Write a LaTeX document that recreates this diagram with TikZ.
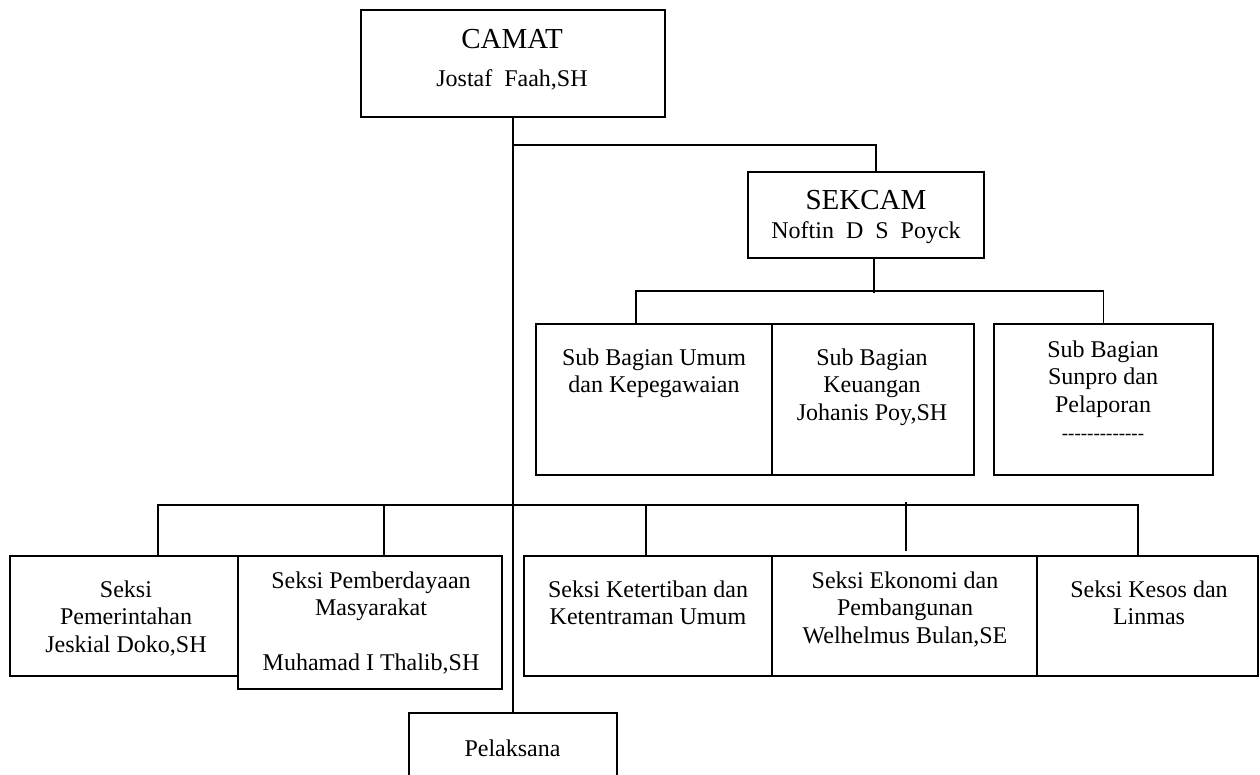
\documentclass[tikz,border=0pt]{standalone}
\usepackage{fontspec}
\setmainfont{Liberation Serif}
\usetikzlibrary{calc}
\newcommand\mlines[1]{\begin{tabular}[t]{@{}c@{}}#1\end{tabular}}
\newcommand\hy{-\kern0pt}
\begin{document}
\begin{tikzpicture}[x=1pt,y=-1pt,
  box/.style n args={2}{draw, line width=1.7pt, rectangle, inner sep=0pt,
    minimum width=#1, minimum height=#2},
  lbl/.style={anchor=base, inner sep=0pt, font=\fontsize{24}{27.5}\selectfont},
  big/.style={anchor=base, inner sep=0pt, font=\fontsize{29}{33}\selectfont},
  conn/.style={line width=1.5pt}]
\useasboundingbox (0,0) rectangle (1260,774);

% boxes
\node[box={304}{107}] (camat) at (513,63.5) {};
\node[box={236}{86}] (sekcam) at (866,215) {};
\node[box={236}{151}] (sb1) at (654,399.5) {};
\node[box={202}{151}] (sb2) at (873,399.5) {};
\node[box={219}{151}] (sb3) at (1103.5,399.5) {};
\node[box={228}{120}] (s1) at (124,616) {};
\node[box={264}{133}] (s2) at (370,622.5) {};
\node[box={248}{120}] (s3) at (648,616) {};
\node[box={265}{120}] (s4) at (904.5,616) {};
\node[box={221}{120}] (s5) at (1147.5,616) {};
\node[box={208}{87}] (pel) at (513,756.5) {};

% texts
\node[big] (camatT) at (512,48) {CAMAT};
\node[lbl] (camatN) at (512,86) {Jostaf\ \ Faah,SH};
\node[big] (sekcamT) at (866,209) {SEKCAM};
\node[lbl] (sekcamN) at (866,238) {Noftin\ \ D\ \ S\ \ Poyck};
\node[lbl] (sb1T) at (654,365) {\mlines{Sub Bagian Umum\\dan Kepegawaian}};
\node[lbl] (sb2T) at (872,365) {\mlines{Sub Bagian\\Keuangan\\Johanis Poy,SH}};
\node[lbl] (sb3T) at (1103,357) {\mlines{Sub Bagian\\Sunpro dan\\Pelaporan\\{\fontsize{19}{22}\selectfont\hy\hy\hy\hy\hy\hy\hy\hy\hy\hy\hy\hy-}}};
\node[lbl] (s1T) at (126,597) {\mlines{Seksi\\Pemerintahan\\Jeskial Doko,SH}};
\node[lbl] (s2T) at (371,588) {\mlines{Seksi Pemberdayaan\\Masyarakat\\ \\Muhamad I Thalib,SH}};
\node[lbl] (s3T) at (648,597) {\mlines{Seksi Ketertiban dan\\Ketentraman Umum}};
\node[lbl] (s4T) at (905,588) {\mlines{Seksi Ekonomi dan\\Pembangunan\\Welhelmus Bulan,SE}};
\node[lbl] (s5T) at (1149,597) {\mlines{Seksi Kesos dan\\Linmas}};
\node[lbl] (pelT) at (512.5,756) {Pelaksana};

% connectors
\draw[conn] (camat.south) -- (pel.north);
\draw[conn] ($(camat.south)+(0,27)$) -| ([xshift=10pt]sekcam.north);
\draw[conn] ([xshift=8pt]sekcam.south) -- ++(0,34);
\draw[conn] ([xshift=-18pt]sb1.north) -- ++(0,-32) -| (sb3.north);
\draw[conn] ([xshift=34pt]s1.north) -- ++(0,-50) -| ([xshift=-9.5pt]s5.north);
\draw[conn] ([xshift=14pt]s2.north) -- ++(0,-50);
\draw[conn] ([xshift=-2pt]s3.north) -- ++(0,-50);
\draw[conn] ([xshift=1.5pt,yshift=4pt]s4.north) -- ++(0,-49);
\end{tikzpicture}
\end{document}
